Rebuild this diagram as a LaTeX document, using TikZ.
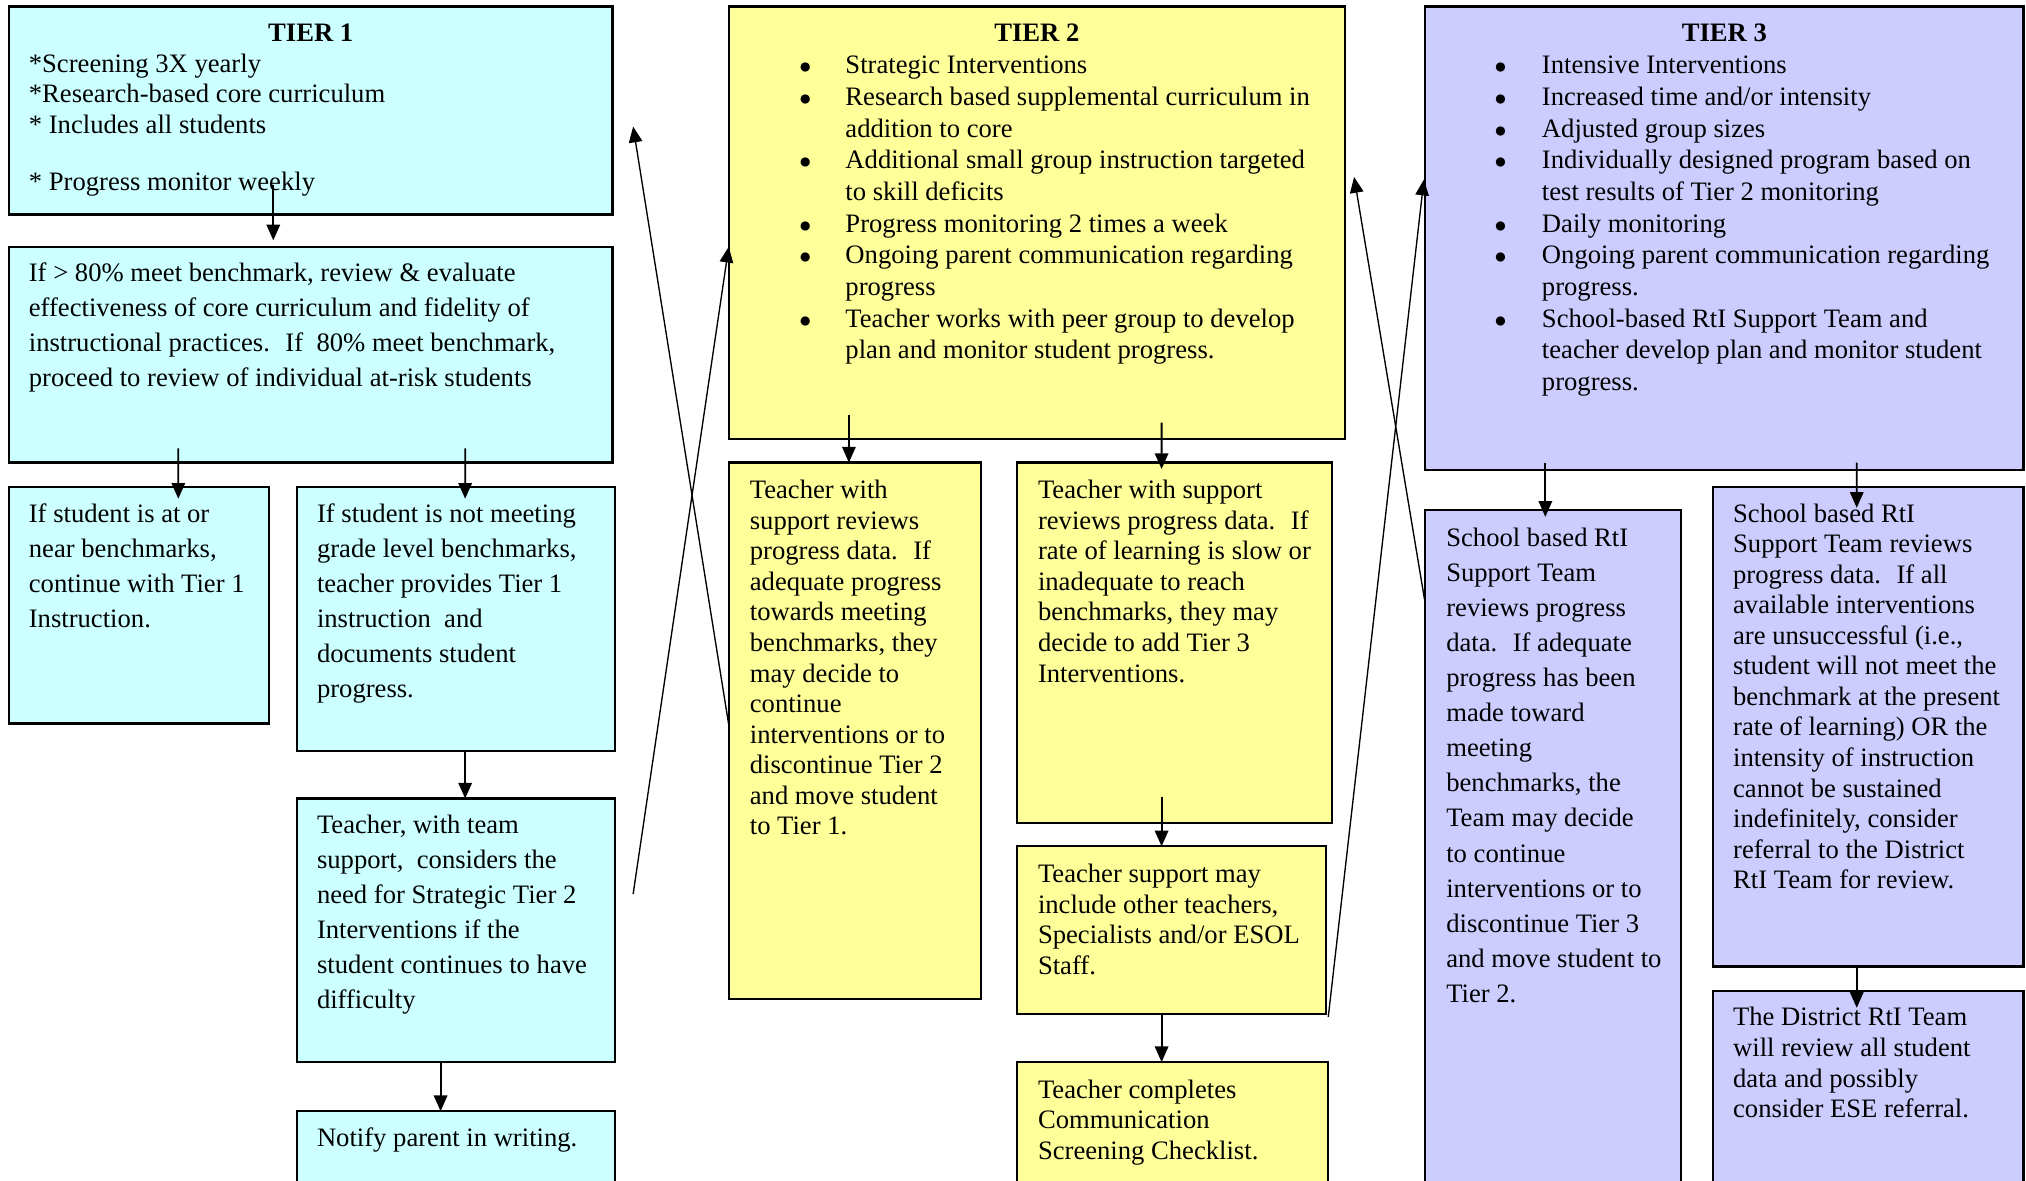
\documentclass[tikz,border=0pt]{standalone}
\usepackage{fontspec}
\setmainfont{Liberation Serif}
\usetikzlibrary{arrows.meta}

\definecolor{tiercyan}{HTML}{CCFFFF}
\definecolor{tieryellow}{HTML}{FFFF99}
\definecolor{tierblue}{HTML}{CCCCFF}

\newcommand\boxlines[1]{\begin{tabular}[t]{@{}l@{}}#1\end{tabular}}
\newcommand\bulletlines[2]{\begin{tabular}[t]{@{}p{#1}@{}l@{}}#2\end{tabular}}
\newcommand\tierbullet{{\fontsize{9.5}{11}\selectfont ●}}

\begin{document}
\begin{tikzpicture}[x=0.575pt, y=-0.575pt]
\tikzset{
tierbox/.style={rectangle, draw=black, line width=1pt, anchor=north west, inner sep=0pt, outer sep=0pt},
tierone/.style={tierbox, fill=tiercyan},
tiertwo/.style={tierbox, fill=tieryellow},
tierthree/.style={tierbox, fill=tierblue},
boxsize/.style 2 args={minimum width=#1*0.575pt, minimum height=#2*0.575pt},
tiertitle/.style={anchor=base, inner sep=0pt, font=\fontsize{11.85}{14}\selectfont\bfseries},
boxtext/.style={anchor=base west, inner sep=0pt, font=\fontsize{11.85}{13.6}\selectfont},
widetext/.style={boxtext, font=\fontsize{11.85}{15.6}\selectfont},
listtext/.style={boxtext, font=\fontsize{11.85}{14.1}\selectfont},
myarrow/.style={-{Triangle[length=7pt,width=6pt]}, line width=0.8pt},
thinarrow/.style={-{Triangle[length=7pt,width=6pt]}, line width=0.6pt},
}
\useasboundingbox (0,0) rectangle (1568,914);
\clip (0,0) rectangle (1568,914);

% tier 1
\node[tierone, boxsize={467}{161}] (tier1) at (7,5) {};
\node[tierone, boxsize={467}{167}] (t1eval) at (7,191) {};
\node[tierone, boxsize={201}{183}] (t1near) at (7,377) {};
\node[tierone, boxsize={246}{204}] (t1not) at (230,377) {};
\node[tierone, boxsize={246}{204}] (t1team) at (230,618) {};
\node[tierone, boxsize={246}{80}] (t1notify) at (230,860) {};

% tier 2
\node[tiertwo, boxsize={477}{335}] (tier2) at (564,5) {};
\node[tiertwo, boxsize={195}{415}] (t2review) at (564,358) {};
\node[tiertwo, boxsize={244}{279}] (t2rate) at (787,358) {};
\node[tiertwo, boxsize={239}{130}] (t2support) at (787,655) {};
\node[tiertwo, boxsize={241}{110}] (t2checklist) at (787,822) {};

% tier 3
\node[tierthree, boxsize={463}{359}] (tier3) at (1103,5) {};
\node[tierthree, boxsize={198}{540}] (t3review) at (1103,395) {};
\node[tierthree, boxsize={240}{371}] (t3referral) at (1326,377) {};
\node[tierthree, boxsize={240}{170}] (t3district) at (1326,767) {};

% texts
\node[tiertitle] (tier1title) at ([shift={(0,27)}]tier1.north) {TIER 1};
\node[boxtext] (tier1list) at ([shift={(15,51)}]tier1.north west) {\boxlines{{*}Screening 3X yearly\\ {*}Research-based core curriculum\\ {*} Includes all students\\[12pt] {*} Progress monitor weekly}};
\node[widetext] (t1evaltext) at ([shift={(15,27)}]t1eval.north west) {\boxlines{If > 80\% meet benchmark, review \& evaluate\\ effectiveness of core curriculum and fidelity of\\ instructional practices.~ If~~80\% meet benchmark,\\ proceed to review of individual at-risk students}};
\node[widetext] (t1neartext) at ([shift={(15,27)}]t1near.north west) {\boxlines{If student is at or\\ near benchmarks,\\ continue with Tier 1\\ Instruction.}};
\node[widetext] (t1nottext) at ([shift={(15,27)}]t1not.north west) {\boxlines{If student is not meeting\\ grade level benchmarks,\\ teacher provides Tier 1\\ instruction~ and\\ documents student\\ progress.}};
\node[widetext] (t1teamtext) at ([shift={(15,27)}]t1team.north west) {\boxlines{Teacher, with team\\ support,~ considers the\\ need for Strategic Tier 2\\ Interventions if the\\ student continues to have\\ difficulty}};
\node[widetext] (t1notifytext) at ([shift={(15,27)}]t1notify.north west) {\boxlines{Notify parent in writing.}};

\node[tiertitle] (tier2title) at ([shift={(0,27)}]tier2.north) {TIER 2};
\node[listtext] (tier2list) at ([shift={(54,52)}]tier2.north west) {\bulletlines{20.7pt}{\tierbullet & Strategic Interventions\\ \tierbullet & Research based supplemental curriculum in\\ & addition to core\\ \tierbullet & Additional small group instruction targeted\\ & to skill deficits\\ \tierbullet & Progress monitoring 2 times a week\\ \tierbullet & Ongoing parent communication regarding\\ & progress\\ \tierbullet & Teacher works with peer group to develop\\ & plan and monitor student progress.}};
\node[boxtext] (t2reviewtext) at ([shift={(16,28)}]t2review.north west) {\boxlines{Teacher with\\ support reviews\\ progress data.~ If\\ adequate progress\\ towards meeting\\ benchmarks, they\\ may decide to\\ continue\\ interventions or to\\ discontinue Tier 2\\ and move student\\ to Tier 1.}};
\node[boxtext] (t2ratetext) at ([shift={(16,28)}]t2rate.north west) {\boxlines{Teacher with support\\ reviews progress data.~ If\\ rate of learning is slow or\\ inadequate to reach\\ benchmarks, they may\\ decide to add Tier 3\\ Interventions.}};
\node[boxtext] (t2supporttext) at ([shift={(16,28)}]t2support.north west) {\boxlines{Teacher support may\\ include other teachers,\\ Specialists and/or ESOL\\ Staff.}};
\node[boxtext] (t2checklisttext) at ([shift={(16,28)}]t2checklist.north west) {\boxlines{Teacher completes\\ Communication\\ Screening Checklist.}};

\node[tiertitle] (tier3title) at ([shift={(0,27)}]tier3.north) {TIER 3};
\node[listtext] (tier3list) at ([shift={(53,52)}]tier3.north west) {\bulletlines{21.3pt}{\tierbullet & Intensive Interventions\\ \tierbullet & Increased time and/or intensity\\ \tierbullet & Adjusted group sizes\\ \tierbullet & Individually designed program based on\\ & test results of Tier 2 monitoring\\ \tierbullet & Daily monitoring\\ \tierbullet & Ongoing parent communication regarding\\ & progress.\\ \tierbullet & School-based RtI Support Team and\\ & teacher develop plan and monitor student\\ & progress.}};
\node[widetext] (t3reviewtext) at ([shift={(16,28)}]t3review.north west) {\boxlines{School based RtI\\ Support Team\\ reviews progress\\ data.~ If adequate\\ progress has been\\ made toward\\ meeting\\ benchmarks, the\\ Team may decide\\ to continue\\ interventions or to\\ discontinue Tier 3\\ and move student to\\ Tier 2.}};
\node[boxtext] (t3referraltext) at ([shift={(15,27)}]t3referral.north west) {\boxlines{School based RtI\\ Support Team reviews\\ progress data.~ If all\\ available interventions\\ are unsuccessful (i.e.,\\ student will not meet the\\ benchmark at the present\\ rate of learning) OR the\\ intensity of instruction\\ cannot be sustained\\ indefinitely, consider\\ referral to the District\\ RtI Team for review.}};
\node[boxtext] (t3districttext) at ([shift={(15,27)}]t3district.north west) {\boxlines{The District RtI Team\\ will review all student\\ data and possibly\\ consider ESE referral.}};

% arrows down
\draw[myarrow] ([shift={(-29,-23)}]tier1.south) -- ([shift={(-29,-5)}]t1eval.north);
\draw[myarrow] ([shift={(-102.5,-11)}]t1eval.south) -- ([shift={(30.5,9)}]t1near.north);
\draw[myarrow] ([shift={(119.5,-11)}]t1eval.south) -- ([shift={(7,9)}]t1not.north);
\draw[myarrow] ([shift={(7,0)}]t1not.south) -- ([shift={(7,0)}]t1team.north);
\draw[myarrow] ([shift={(-12,0)}]t1team.south) -- ([shift={(-12,0)}]t1notify.north);
\draw[myarrow] ([shift={(-145.5,-19)}]tier2.south) -- ([shift={(-4.5,0)}]t2review.north);
\draw[myarrow] ([shift={(96.5,-13)}]tier2.south) -- ([shift={(-10,5)}]t2rate.north);
\draw[myarrow] ([shift={(-10,-20)}]t2rate.south) -- ([shift={(-7.5,0)}]t2support.north);
\draw[myarrow] ([shift={(-7.5,0)}]t2support.south) -- ([shift={(-8.5,0)}]t2checklist.north);
\draw[myarrow] ([shift={(-138.5,-6)}]tier3.south) -- ([shift={(-6,5)}]t3review.north);
\draw[myarrow] ([shift={(102.5,-6)}]tier3.south) -- ([shift={(-9,16)}]t3referral.north);
\draw[myarrow] ([shift={(-9,0)}]t3referral.south) -- ([shift={(-9,13)}]t3district.north);

% arrows between tiers
\coordinate (backone) at (490,98);
\coordinate (backtwo) at (1048,137);
\draw[thinarrow] ([shift={(14,74)}]t1team.north east) -- ([shift={(0,186)}]tier2.north west);
\draw[thinarrow] ([shift={(0,203)}]t2review.north west) -- (backone);
\draw[thinarrow] ([shift={(2,2)}]t2support.south east) -- ([shift={(-1,134)}]tier3.north west);
\draw[thinarrow] ([shift={(0,72)}]t3review.north west) -- (backtwo);
\end{tikzpicture}
\end{document}
